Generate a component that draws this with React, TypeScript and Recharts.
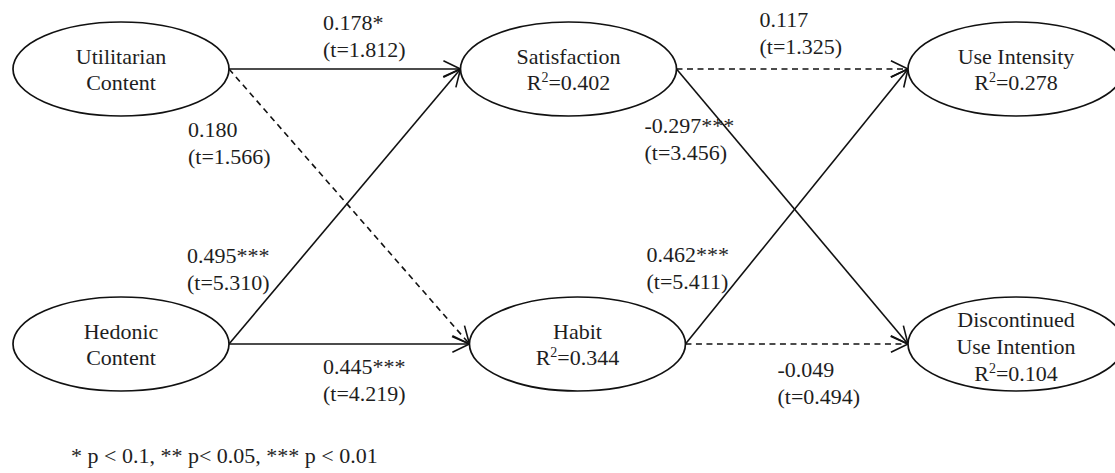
import React from 'react';
import { ScatterChart, Scatter, XAxis, YAxis, ReferenceLine } from 'recharts';

// ---------- data ----------
const nodeIds = ['util', 'hed', 'sat', 'habit', 'use', 'disc'];
const nodeLabelLines: string[][] = [
  ['Utilitarian', 'Content'],
  ['Hedonic', 'Content'],
  ['Satisfaction'],
  ['Habit'],
  ['Use Intensity'],
  ['Discontinued', 'Use Intention'],
];
const nodeR2: (number | null)[] = [null, null, 0.402, 0.344, 0.278, 0.104];
const nodeColumn = [0, 0, 1, 1.02, 2, 2];
const nodeRow = [0, 1, 0, 1, 0, 1];

const edgeFrom = ['util', 'util', 'hed', 'hed', 'sat', 'sat', 'habit', 'habit'];
const edgeTo = ['sat', 'habit', 'sat', 'habit', 'use', 'disc', 'use', 'disc'];
const edgeCoef = [0.178, 0.18, 0.495, 0.445, 0.117, -0.297, 0.462, -0.049];
const edgeStars = ['*', '', '***', '***', '', '***', '***', ''];
const edgeT = [1.812, 1.566, 5.31, 4.219, 1.325, 3.456, 5.411, 0.494];

const footnote = '* p < 0.1, ** p< 0.05, *** p < 0.01';

// ---------- layout / style ----------
const W = 1115;
const H = 473;
const RX = 108;
const RY = 47;
const FONT = '"Liberation Serif", "Times New Roman", Times, serif';
const FS = 22;
const TEXT_COLOR = '#1e1e1e';
const LINE_COLOR = '#111';
const ARROW_LEN = 19;
const ARROW_ANGLE = (26 * Math.PI) / 180;
// label anchor offsets relative to the edge start point [dx, baseline dy of first line]
const LABEL_OFFSET: [number, number][] = [
  [94, -39],
  [-41, 68],
  [-42, -81],
  [94, 30],
  [83, -42],
  [-32, 64],
  [-39, -82],
  [92, 33],
];
const LABEL_LINE_H = 27;

const nodeData = nodeIds.map((id, i) => ({
  id,
  x: nodeColumn[i],
  y: nodeRow[i],
  lines: nodeLabelLines[i],
  r2: nodeR2[i],
}));
const nodeIndex = (id: string) => nodeIds.indexOf(id);

function NodeShape(props: any) {
  const { cx, cy, payload } = props;
  const lines: string[] = payload.lines;
  const total = lines.length + (payload.r2 != null ? 1 : 0);
  const offsets =
    total === 3 ? [-17, 10, 37] : total === 2 ? [-5, 21] : [7];
  return (
    <g>
      <ellipse cx={cx} cy={cy} rx={RX} ry={RY} fill="#fff" stroke={LINE_COLOR} strokeWidth={1.7} />
      {lines.map((l, k) => (
        <text
          key={k}
          x={cx}
          y={cy + offsets[k]}
          textAnchor="middle"
          fontFamily={FONT}
          fontSize={FS}
          fill={TEXT_COLOR}
        >
          {l}
        </text>
      ))}
      {payload.r2 != null && (
        <text
          x={cx}
          y={cy + offsets[lines.length]}
          textAnchor="middle"
          fontFamily={FONT}
          fontSize={FS}
          fill={TEXT_COLOR}
        >
          <tspan>R</tspan>
          <tspan fontSize={14} dy={-8}>
            2
          </tspan>
          <tspan dy={8}>{`=${payload.r2.toFixed(3)}`}</tspan>
        </text>
      )}
    </g>
  );
}

function makeEdgeShape(i: number) {
  const dashed = edgeStars[i] === '';
  return (p: any) => {
    const x1 = Number(p.x1);
    const y1 = Number(p.y1);
    const x2 = Number(p.x2);
    const y2 = Number(p.y2);
    const sx = x1 + RX;
    const sy = y1;
    const ex = x2 - RX;
    const ey = y2;
    const dx = ex - sx;
    const dy = ey - sy;
    const len = Math.hypot(dx, dy) || 1;
    const ux = dx / len;
    const uy = dy / len;
    const c = Math.cos(ARROW_ANGLE);
    const s = Math.sin(ARROW_ANGLE);
    const w1x = ex - ARROW_LEN * (ux * c - uy * s);
    const w1y = ey - ARROW_LEN * (uy * c + ux * s);
    const w2x = ex - ARROW_LEN * (ux * c + uy * s);
    const w2y = ey - ARROW_LEN * (uy * c - ux * s);
    const [ldx, ldy] = LABEL_OFFSET[i];
    return (
      <g>
        <line
          x1={sx}
          y1={sy}
          x2={ex}
          y2={ey}
          stroke={LINE_COLOR}
          strokeWidth={1.6}
          strokeDasharray={dashed ? '6 4.5' : undefined}
        />
        <polyline
          points={`${w1x},${w1y} ${ex},${ey} ${w2x},${w2y}`}
          fill="none"
          stroke={LINE_COLOR}
          strokeWidth={1.6}
        />
        <text x={sx + ldx} y={sy + ldy} fontFamily={FONT} fontSize={FS} fill={TEXT_COLOR}>
          {`${edgeCoef[i].toFixed(3)}${edgeStars[i]}`}
        </text>
        <text
          x={sx + ldx}
          y={sy + ldy + LABEL_LINE_H}
          fontFamily={FONT}
          fontSize={FS}
          fill={TEXT_COLOR}
        >
          {`(t=${edgeT[i].toFixed(3)})`}
        </text>
      </g>
    );
  };
}

export default function App() {
  return (
    <div style={{ position: 'absolute', left: 0, top: 0, width: W, height: H, background: '#fff' }}>
      <ScatterChart
        width={W}
        height={H}
        margin={{ top: 69, right: 99, bottom: 129, left: 121 }}
      >
        <XAxis type="number" dataKey="x" domain={[0, 2]} hide height={0} />
        <YAxis type="number" dataKey="y" domain={[0, 1]} reversed hide width={0} />
        {edgeFrom.map((f, i) => {
          const a = nodeData[nodeIndex(f)];
          const b = nodeData[nodeIndex(edgeTo[i])];
          return (
            <ReferenceLine
              key={i}
              segment={[
                { x: a.x, y: a.y },
                { x: b.x, y: b.y },
              ]}
              ifOverflow="visible"
              shape={makeEdgeShape(i)}
            />
          );
        })}
        <Scatter data={nodeData} dataKey="y" shape={NodeShape} isAnimationActive={false} />
      </ScatterChart>
      <svg
        width={W}
        height={H}
        style={{ position: 'absolute', left: 0, top: 0, pointerEvents: 'none' }}
      >
        <text x={71} y={463} fontFamily={FONT} fontSize={FS} fill={TEXT_COLOR}>
          {footnote}
        </text>
      </svg>
    </div>
  );
}
